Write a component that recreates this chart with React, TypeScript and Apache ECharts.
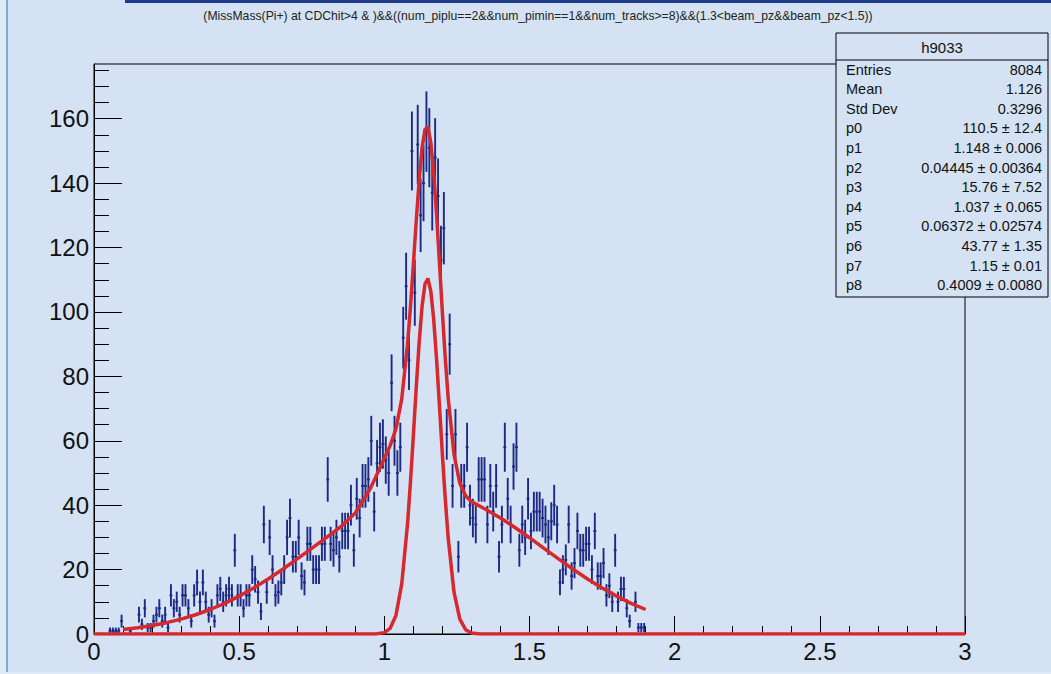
import React, { useEffect, useRef } from "react";
import * as echarts from "echarts";

// ---------------- data ----------------
const titleText =
  "(MissMass(Pi+) at CDChit>4 & )&&((num_piplu==2&&num_pimin==1&&num_tracks>=8)&&(1.3<beam_pz&&beam_pz<1.5))";

const binWidth = 0.01;
const firstBin = 5; // first drawn bin index (x = 0.05 .. 0.06)
// counts per 0.01 bin, starting at bin 5 (null = empty bin)
const binCounts: (number | null)[] = [
  1, 1, 1, 1, 4, // 5-9
  null, null, 1, null, null, 6, 3, 8, 2, 2, // 10-19
  4, 6, 8, 4, 6, 2, 12, 8, 10, 6, // 20-29
  12, 12, 8, 4, 12, 16, 10, 16, 10, 6, // 30-39
  8, 4, 12, 14, 10, 12, 14, 12, 26, 12, // 40-49
  12, 8, 12, 12, 20, 17, 13, 7, 34, 13, // 50-59
  30, 20, 12, 13, 16, 20, 30, 36, 24, 24, // 60-69
  30, 18, 16, 28, 28, 20, 20, 20, 28, 28, // 70-79
  48, 28, 26, 30, 24, 32, 32, 32, 40, 26, // 80-89
  42, 36, 46, 46, 48, 60, 38, 53, 58, 59, // 90-99
  54, 50, 78, 60, 50, 58, 92, 108, 85, 150, // 100-109
  106, 152, 130, 140, 156, 151, 137, 148, 136, 116, // 110-119
  126, 62, 90, 46, 62, 24, 46, 46, 58, 40, // 120-129
  36, 34, 48, 48, 48, 34, 46, 38, 46, 24, // 130-139
  34, 58, 42, 34, 52, 58, 26, 34, 30, 42, // 140-149
  32, 38, 38, 38, 36, 34, 30, 35, 40, 34, // 150-159
  16, 20, 23, 34, 18, 22, 32, 26, 26, 28, // 160-169
  28, 20, 32, 18, 18, 22, 12, 15, 10, 26, // 170-179
  10, 14, 14, 8, 4, null, 10, 2, 2, 2, // 180-189
];

// total fit curve
const fitX = [
  0.1, 0.15, 0.2, 0.25, 0.3, 0.35, 0.4, 0.45, 0.5, 0.55, 0.6, 0.65, 0.7, 0.75, 0.8, 0.85, 0.9, 0.95, 0.97,
  1.0, 1.02, 1.04, 1.06, 1.08, 1.09, 1.1, 1.11, 1.12, 1.13, 1.14, 1.15, 1.16, 1.17, 1.18, 1.19, 1.2, 1.21,
  1.22, 1.24, 1.26, 1.28, 1.3, 1.35, 1.4, 1.45, 1.5, 1.55, 1.6, 1.65, 1.7, 1.75, 1.8, 1.85, 1.9,
];
const fitY = [
  1.42, 1.95, 2.64, 3.52, 4.62, 5.98, 7.61, 9.53, 11.76, 14.28, 17.08, 20.11, 23.31, 26.6, 29.9, 33.3, 37.6, 44.9, 48.7,
  54.6, 58.5, 63.7, 73.0, 90.0, 101.6, 114.8, 128.4, 141.0, 151.0, 156.7, 157.4, 152.7, 143.3, 130.2, 115.1, 99.7, 85.5,
  73.2, 55.8, 46.8, 42.9, 41.1, 38.66, 36.04, 33.08, 29.9, 26.6, 23.31, 20.11, 17.08, 14.28, 11.76, 9.53, 7.61,
];

// narrow peak component (drawn over the full axis range)
const peakX = [
  0, 0.97, 1.0, 1.02, 1.04, 1.06, 1.08, 1.09, 1.1, 1.11, 1.12, 1.13, 1.14, 1.15, 1.16, 1.17, 1.18, 1.19, 1.2,
  1.21, 1.22, 1.24, 1.26, 1.28, 1.3, 1.33, 3,
];
const peakY = [
  0, 0, 0.43, 1.75, 5.77, 15.57, 34.29, 47.2, 61.66, 76.7, 90.63, 101.8, 108.7, 110.4, 106.5, 97.8, 85.3, 70.7, 55.7,
  41.8, 29.8, 12.97, 4.62, 1.34, 0.32, 0, 0,
];

const yMajorTicks = [0, 20, 40, 60, 80, 100, 120, 140, 160];
const yMinorTicks = [5, 10, 15, 25, 30, 35, 45, 50, 55, 65, 70, 75, 85, 90, 95, 105, 110, 115, 125, 130, 135, 145, 150, 155, 165, 170, 175];
const yMax = 177;

const statsTitle = "h9033";
const statsLabels = ["Entries", "Mean", "Std Dev", "p0", "p1", "p2", "p3", "p4", "p5", "p6", "p7", "p8"];
const statsValues = [
  "8084",
  "1.126",
  "0.3296",
  "110.5 ± 12.4",
  "1.148 ± 0.006",
  "0.04445 ± 0.00364",
  "15.76 ± 7.52",
  "1.037 ± 0.065",
  "0.06372 ± 0.02574",
  "43.77 ± 1.35",
  "1.15 ± 0.01",
  "0.4009 ± 0.0080",
];

// ---------------- style ----------------
const W = 1051;
const H = 674;
const BG = "#d4e2f3";
const NAVY = "#1c2a85";
const RED = "#d6282d";
const FONT = "'Liberation Sans', Arial, Helvetica, sans-serif";

export default function App() {
  const ref = useRef<HTMLDivElement>(null);

  useEffect(() => {
    if (!ref.current) return;
    const chart = echarts.init(ref.current, undefined, { renderer: "svg", width: W, height: H });

    const points: number[][] = [];
    binCounts.forEach((c, i) => {
      if (c === null || c === undefined) return;
      points.push([(firstBin + i + 0.5) * binWidth, c]);
    });

    const statsGraphics: any[] = [];
    const boxL = 836;
    const boxR = 1048;
    const boxT = 33;
    const boxB = 297;
    statsGraphics.push({
      type: "rect",
      shape: { x: boxL, y: boxT, width: boxR - boxL, height: boxB - boxT },
      style: { fill: BG, stroke: "#000", lineWidth: 1 },
      z: 100,
    });
    statsGraphics.push({
      type: "line",
      shape: { x1: boxL, y1: 60, x2: boxR, y2: 60 },
      style: { stroke: "#000", lineWidth: 1 },
      z: 101,
    });
    statsGraphics.push({
      type: "text",
      x: (boxL + boxR) / 2,
      y: 47,
      style: { text: statsTitle, fontSize: 15, fontFamily: FONT, fill: "#111", align: "center", verticalAlign: "middle" },
      z: 101,
    });
    statsLabels.forEach((lab, i) => {
      const yy = 69.5 + i * 19.6;
      statsGraphics.push({
        type: "text",
        x: 846,
        y: yy,
        style: { text: lab, fontSize: 14.5, fontFamily: FONT, fill: "#111", align: "left", verticalAlign: "middle" },
        z: 101,
      });
      statsGraphics.push({
        type: "text",
        x: 1042,
        y: yy,
        style: { text: statsValues[i], fontSize: 14.5, fontFamily: FONT, fill: "#111", align: "right", verticalAlign: "middle" },
        z: 101,
      });
    });

    const option: any = {
      animation: false,
      backgroundColor: BG,
      grid: {
        left: 94,
        right: W - 965,
        top: 64,
        bottom: H - 634,
        show: true,
        borderColor: "#000",
        borderWidth: 1,
        backgroundColor: "transparent",
        containLabel: false,
      },
      xAxis: {
        type: "value",
        min: 0,
        max: 3,
        interval: 0.5,
        axisLine: { show: true, lineStyle: { color: "#000", width: 1 } },
        axisTick: { show: true, inside: true, length: 18, lineStyle: { color: "#000", width: 1 } },
        minorTick: { show: true, splitNumber: 5, length: 8, lineStyle: { color: "#000", width: 1 } },
        splitLine: { show: false },
        minorSplitLine: { show: false },
        axisLabel: { color: "#111", fontSize: 24, fontFamily: FONT, margin: 5 },
      },
      yAxis: [
        {
          type: "value",
          min: 0,
          max: yMax,
          axisLine: { show: true, lineStyle: { color: "#000", width: 1 } },
          axisTick: { show: true, inside: true, length: 28, customValues: yMajorTicks, lineStyle: { color: "#000", width: 1 } },
          axisLabel: { color: "#111", fontSize: 24, fontFamily: FONT, margin: 5, customValues: yMajorTicks },
          splitLine: { show: false },
        },
        {
          type: "value",
          min: 0,
          max: yMax,
          position: "left",
          axisLine: { show: false },
          axisTick: { show: true, inside: true, length: 15, customValues: yMinorTicks, lineStyle: { color: "#000", width: 1 } },
          axisLabel: { show: false },
          splitLine: { show: false },
        },
      ],
      series: [
        {
          type: "custom",
          name: "data",
          xAxisIndex: 0,
          yAxisIndex: 0,
          data: points,
          encode: { x: 0, y: 1 },
          z: 2,
          renderItem: (params: any, api: any) => {
            const x = api.value(0);
            const y = api.value(1);
            const e = Math.sqrt(y);
            const top = api.coord([x, y + e]);
            const bot = api.coord([x, Math.max(0, y - e)]);
            const l = api.coord([x - binWidth / 2, y]);
            const r = api.coord([x + binWidth / 2, y]);
            return {
              type: "group",
              children: [
                { type: "line", shape: { x1: top[0], y1: top[1], x2: bot[0], y2: bot[1] }, style: { stroke: NAVY, lineWidth: 1.9 } },
                { type: "line", shape: { x1: l[0], y1: l[1], x2: r[0], y2: r[1] }, style: { stroke: NAVY, lineWidth: 1.9 } },
              ],
            };
          },
        },
        {
          type: "line",
          name: "peak",
          data: peakX.map((x, i) => [x, peakY[i]]),
          showSymbol: false,
          symbol: "none",
          lineStyle: { color: RED, width: 3.5 },
          z: 3,
        },
        {
          type: "line",
          name: "fit",
          data: fitX.map((x, i) => [x, fitY[i]]),
          showSymbol: false,
          symbol: "none",
          lineStyle: { color: RED, width: 3.5 },
          z: 3,
        },
      ],
      graphic: [
        { type: "rect", shape: { x: 0, y: 0, width: 6, height: H }, style: { fill: "#dfeaf7" }, z: 50 },
        { type: "line", shape: { x1: 7, y1: 0, x2: 7, y2: H }, style: { stroke: "#7fa6db", lineWidth: 2 }, z: 50 },
        { type: "rect", shape: { x: 0, y: 672, width: W, height: 2 }, style: { fill: "#dfeaf7" }, z: 50 },
        { type: "rect", shape: { x: 125, y: 0, width: W - 125, height: 3 }, style: { fill: "#1f3a8a" }, z: 50 },
        {
          type: "text",
          x: 538,
          y: 16,
          style: { text: titleText, fontSize: 12.2, fontFamily: FONT, fill: "#222", align: "center", verticalAlign: "middle" },
          z: 50,
        },
        ...statsGraphics,
      ],
    };

    chart.setOption(option);
    return () => chart.dispose();
  }, []);

  return (
    <div
      ref={ref}
      style={{ position: "fixed", left: 0, top: 0, width: W, height: H, background: BG }}
    />
  );
}
